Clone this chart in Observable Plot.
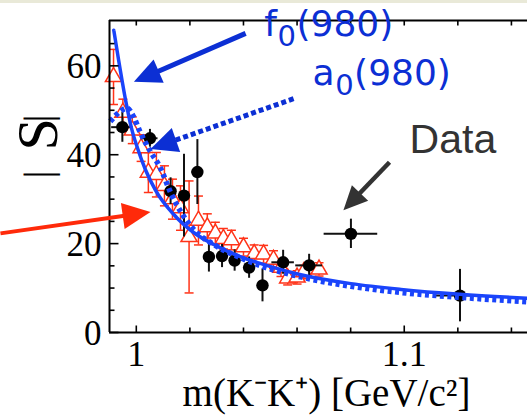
<!DOCTYPE html>
<html><head><meta charset="utf-8">
<script src="https://cdn.jsdelivr.net/npm/d3@7"></script>
<script src="https://cdn.jsdelivr.net/npm/@observablehq/plot@0.6"></script>
<style>
html,body{margin:0;padding:0;}
body{background:linear-gradient(#e9e9d8 0 3px,#ffffff 3px);width:527px;height:417px;overflow:hidden;}
</style></head><body>
<script>
// ---- Data ----
// Measured |S| ("Data", black points)
const dataMass = [0.9948, 1.0051, 1.0128, 1.0178, 1.0228, 1.0271, 1.0320, 1.0367, 1.0421, 1.0471, 1.0548, 1.0645, 1.0801, 1.1208];
const dataS    = [46.2,   43.7,   31.8,   30.8,   36.1,   17.0,   17.2,   16.2,   14.6,   10.6,   15.8,   15.1,   22.2,   8.3];
const dataErrS = [3.4,    2.0,    3.0,    9.3,    7.3,    3.4,    2.6,    2.4,    2.4,    3.7,    2.7,    2.5,    3.3,    5.9];
const dataErrM = [0.004,  0.003,  0.002,  0.002,  0.002,  0.002,  0.002,  0.002,  0.002,  0.002,  0.0042, 0.005,  0.010,  0.0088];
// Red open triangles
const redMass = [0.9915, 0.9950, 0.9985, 1.0018, 1.0045, 1.0075, 1.0105, 1.0135, 1.0165, 1.0197, 1.0232, 1.0265, 1.0295, 1.0325, 1.0355, 1.0400, 1.0440, 1.0475, 1.0512, 1.0540, 1.0565, 1.0600, 1.0625, 1.0682];
const redS    = [57.5,   49.5,   45.5,   41.5,   36.0,   35.5,   33.0,   30.0,   28.0,   21.5,   25.2,   23.7,   22.3,   21.1,   20.8,   19.2,   17.7,   17.6,   16.4,   14.6,   12.2,   12.4,   13.6,   14.2];
const redErrS = [6.2,    3.0,    3.0,    3.0,    4.5,    5.0,    4.5,    4.5,    5.0,    12.6,   5.5,    3.0,    2.5,    2.3,    2.2,    2.0,    2.0,    2.0,    2.0,    2.0,    1.5,    1.5,    1.5,    1.5];
// f0(980) curve (solid blue)
const f0Mass = [0.9916, 0.9934, 0.9960, 0.9982, 1.0005, 1.0035, 1.0072, 1.0139, 1.0214, 1.0289, 1.0390, 1.0465, 1.0614, 1.0801, 1.0988, 1.1208, 1.1462];
const f0S    = [68.0,   61.3,   52.3,   46.0,   41.4,   36.5,   32.0,   26.6,   22.5,   19.8,   17.0,   15.5,   13.0,   11.0,   9.7,    8.6,    7.7];
// a0(980) curve (dotted blue)
const a0Mass = [0.9903, 0.9935, 0.9965, 0.9990, 1.0015, 1.0050, 1.0090, 1.0128, 1.0173, 1.0214, 1.0289, 1.0390, 1.0465, 1.0614, 1.0801, 1.0988, 1.1208, 1.1462];
const a0S    = [47.5,   49.5,   50.5,   48.5,   45.0,   41.0,   37.0,   31.5,   26.5,   23.2,   19.8,   16.8,   15.0,   12.5,   10.4,   9.0,    7.9,    6.9];
// Axes
const xMajorTicks = [1, 1.1];
const xTickLabels = ["1", "1.1"];
const xMinorTicks = [1.02, 1.04, 1.06, 1.08, 1.12, 1.14];
const yMajorTicks = [0, 20, 40, 60];
const yTickLabels = ["0", "20", "40", "60"];
const yMinorTicks = [5, 10, 15, 25, 30, 35, 45, 50, 55, 65];
const xDomain = [0.99, 1.146];
const yDomain = [0, 70.2];
const xTitle = "m(K\u207BK\u207A) [GeV/c\u00B2]";
const yTitleParts = ["|", "S", "|"];
// Annotations: name, subscript, rest; anchor (data units)
const annBase = ["f", "a", "Data"];
const annSub  = ["0", "0", ""];
const annRest = ["(980)", "(980)", ""];
const annX = [1.0478, 1.0658, 1.1020];
const annY = [66.8, 55.6, 40.5];
// Annotation arrows: start and tip (data units)
const arrowX1 = [1.0408, 1.0587, 1.0945, 0.9493];
const arrowY1 = [67.3, 52.6, 38.3, 22.3];
const arrowX2 = [0.9991, 1.0053, 1.0773, 1.0053];
const arrowY2 = [56.4, 41.3, 27.5, 27.1];

// ---- Build tables ----
const dataPts = dataMass.map((m, i) => ({m, s: dataS[i], e: dataErrS[i], em: dataErrM[i]}));
const redPts = redMass.map((m, i) => ({m, s: redS[i], e: redErrS[i]}));
const f0Pts = f0Mass.map((m, i) => ({m, s: f0S[i]}));
const a0Pts = a0Mass.map((m, i) => ({m, s: a0S[i]}));

const W = 527, H = 417, mL = 109, mR = 0, mT = 20, mB = 85;
const sx = d3.scaleLinear(xDomain, [mL, W - mR]);
const sy = d3.scaleLinear(yDomain, [H - mB, mT]);

// custom symbols: size = r*r*PI  -> L = r
const seg = {draw(ctx, size) { const L = Math.sqrt(size / Math.PI); ctx.moveTo(0, 0); ctx.lineTo(0, -L); }};
const cap = {draw(ctx, size) { const L = Math.sqrt(size / Math.PI); ctx.moveTo(-L, 0); ctx.lineTo(L, 0); }};
const head = {draw(ctx, size) { const L = Math.sqrt(size / Math.PI); ctx.moveTo(0, 0); ctx.lineTo(0.47 * L, L); ctx.lineTo(-0.47 * L, L); ctx.closePath(); }};

const blue = "#0c2fd4", curveBlue = "#1a44fb", red = "#ff3318";
const arrowStyles = [
  {color: blue, width: 5, dash: null, L: 27},
  {color: blue, width: 5, dash: "5,3", L: 27},
  {color: "#333333", width: 4.5, dash: null, L: 24},
  {color: "#ff2a0a", width: 4, dash: null, L: 28}
];
const arrowMarks = arrowX1.flatMap((x1, i) => {
  const st = arrowStyles[i];
  const p1 = [sx(x1), sy(arrowY1[i])], p2 = [sx(arrowX2[i]), sy(arrowY2[i])];
  const dx = p2[0] - p1[0], dy = p2[1] - p1[1], len = Math.hypot(dx, dy);
  const angle = Math.atan2(dx, -dy) * 180 / Math.PI;
  const ex = sx.invert(p2[0] - dx / len * st.L * 0.55), ey = sy.invert(p2[1] - dy / len * st.L * 0.55);
  const a = {x1, y1: arrowY1[i], x2: ex, y2: ey, tx: arrowX2[i], ty: arrowY2[i], angle};
  return [
    Plot.link([a], {x1: "x1", y1: "y1", x2: "x2", y2: "y2", stroke: st.color, strokeWidth: st.width, strokeDasharray: st.dash ?? undefined, strokeLinecap: "butt"}),
    Plot.dot([a], {x: "tx", y: "ty", symbol: head, r: st.L, rotate: "angle", fill: st.color, stroke: "none"})
  ];
});

// text measurement for composing subscripted labels
const mctx = document.createElement("canvas").getContext("2d");
function tw(s, font) { mctx.font = font; return mctx.measureText(s).width; }
const annFont = "DejaVu Sans", annSize = 36, subSize = 29;
const annMarks = [0, 1].flatMap(i => {
  const w1 = tw(annBase[i], `${annSize}px "${annFont}"`);
  const w2 = tw(annSub[i], `${subSize}px "${annFont}"`);
  const common = {x: () => annX[i], y: () => annY[i], textAnchor: "start", lineAnchor: "bottom", fontFamily: annFont, fill: blue};
  return [
    Plot.text([i], {...common, text: () => annBase[i], fontSize: annSize}),
    Plot.text([i], {...common, text: () => annSub[i], fontSize: subSize, dx: w1 + 0.5, dy: 10}),
    Plot.text([i], {...common, text: () => annRest[i], fontSize: annSize, dx: w1 + w2 + 1})
  ];
});

const xMinV = () => xDomain[0];
const yMaxV = () => yDomain[1];

const plot = Plot.plot({
  width: W, height: H,
  marginLeft: mL, marginRight: mR, marginTop: mT, marginBottom: mB,
  x: {domain: xDomain, axis: null},
  y: {domain: yDomain, axis: null},
  style: {background: "transparent", overflow: "visible"},
  marks: [
    // red triangles with error bars
    Plot.ruleX(redPts, {x: "m", y1: d => d.s - d.e, y2: d => d.s + d.e, stroke: red, strokeWidth: 1.5}),
    Plot.dot(redPts, {x: "m", y: d => d.s - d.e, symbol: cap, r: 4.5, stroke: red, strokeWidth: 1.5}),
    Plot.dot(redPts, {x: "m", y: d => d.s + d.e, symbol: cap, r: 4.5, stroke: red, strokeWidth: 1.5}),
    Plot.dot(redPts, {x: "m", y: "s", symbol: "triangle", r: 6, stroke: red, strokeWidth: 1.5, fill: "white"}),
    // data points
    Plot.ruleX(dataPts, {x: "m", y1: d => d.s - d.e, y2: d => d.s + d.e, stroke: "#111", strokeWidth: 2}),
    Plot.ruleY(dataPts, {y: "s", x1: d => d.m - d.em, x2: d => d.m + d.em, stroke: "#111", strokeWidth: 2}),
    Plot.dot(dataPts, {x: "m", y: "s", r: 6.2, fill: "#000", stroke: "none"}),
    // curves
    Plot.line(f0Pts, {x: "m", y: "s", stroke: curveBlue, strokeWidth: 3.5, curve: "monotone-x"}),
    Plot.line(a0Pts, {x: "m", y: "s", stroke: curveBlue, strokeWidth: 5.5, strokeDasharray: "4,3.5", strokeLinecap: "butt", strokeLinejoin: "miter", curve: "monotone-x"}),
    // frame
    Plot.ruleX([0], {x: xMinV, stroke: "#000", strokeWidth: 2}),
    Plot.ruleY([0], {y: () => 0, stroke: "#000", strokeWidth: 2}),
    Plot.ruleY([0], {y: yMaxV, stroke: "#000", strokeWidth: 1.8}),
    // ticks
    Plot.dot(yMajorTicks, {x: xMinV, y: d => d, symbol: seg, r: 9, rotate: 90, stroke: "#000", strokeWidth: 1.6}),
    Plot.dot(yMinorTicks, {x: xMinV, y: d => d, symbol: seg, r: 5, rotate: 90, stroke: "#000", strokeWidth: 1.6}),
    Plot.dot(xMajorTicks, {x: d => d, y: () => 0, symbol: seg, r: 7, rotate: 0, stroke: "#000", strokeWidth: 1.6}),
    Plot.dot(xMinorTicks, {x: d => d, y: () => 0, symbol: seg, r: 5, rotate: 0, stroke: "#000", strokeWidth: 1.6}),
    Plot.dot(xMajorTicks.concat(xMinorTicks), {x: d => d, y: yMaxV, symbol: seg, r: 5, rotate: 180, stroke: "#000", strokeWidth: 1.6}),
    // tick labels
    Plot.text(yMajorTicks, {x: xMinV, y: d => d, text: (d, i) => yTickLabels[i], textAnchor: "end", dx: -8, dy: 1, fontSize: 35, fontFamily: "Liberation Serif", fill: "#000"}),
    Plot.text(xMajorTicks, {x: d => d, y: () => 0, text: (d, i) => xTickLabels[i], dy: 22, fontSize: 36, fontFamily: "Liberation Serif", fill: "#000"}),
    // axis titles
    Plot.text([xTitle], {frameAnchor: "bottom", text: d => d, dx: 8, dy: 73, lineAnchor: "bottom", fontSize: 39, fontFamily: "Liberation Serif", fill: "#000"}),
    Plot.text([yTitleParts[0]], {frameAnchor: "left", text: d => d, rotate: -90, dx: -71, dy: 2, fontSize: 40, fontFamily: "Liberation Serif", fill: "#000"}),
    Plot.text([yTitleParts[1]], {frameAnchor: "left", text: d => d, rotate: -90, dx: -71, dy: -26, fontSize: 58, fontFamily: "Liberation Serif", fill: "#000"}),
    Plot.text([yTitleParts[2]], {frameAnchor: "left", text: d => d, rotate: -90, dx: -71, dy: -54, fontSize: 40, fontFamily: "Liberation Serif", fill: "#000"}),
    // annotations
    ...arrowMarks,
    ...annMarks,
    Plot.text([2], {x: i => annX[i], y: i => annY[i], text: i => annBase[i], textAnchor: "start", lineAnchor: "bottom", fontSize: 41, fontFamily: "Liberation Sans", fill: "#333333"})
  ]
});
document.body.appendChild(plot);
</script>
</body></html>
